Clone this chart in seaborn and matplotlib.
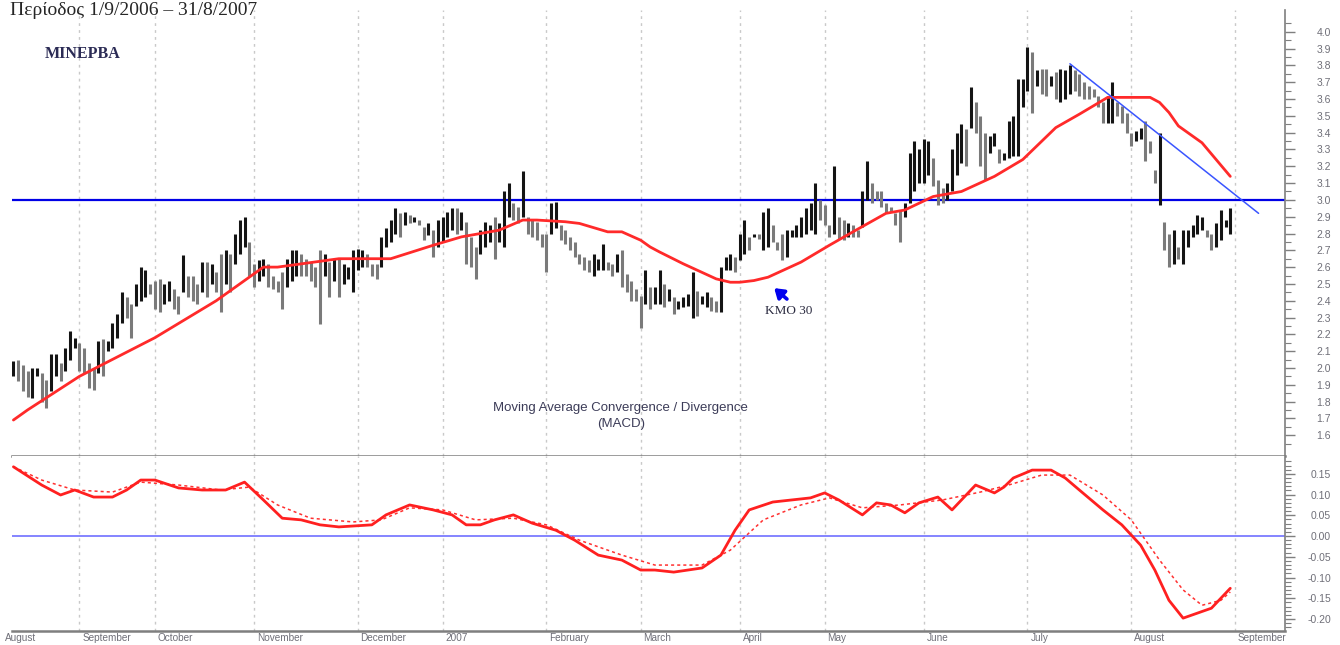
import numpy as np
import pandas as pd
import matplotlib
matplotlib.use("Agg")
import matplotlib.pyplot as plt
import seaborn as sns

# Daily high / low of the share price, trading day index 0 .. 258 (mid Aug 2006 - end Aug 2007)
highs = [
    2.04, 2.05, 2.02, 1.98, 2.00, 2.00, 1.97, 1.93, 2.08, 2.08,
    2.03, 2.12, 2.22, 2.18, 2.15, 2.12, 2.03, 2.00, 2.16, 2.17,
    2.16, 2.27, 2.32, 2.45, 2.42, 2.38, 2.50, 2.60, 2.58, 2.50,
    2.52, 2.53, 2.50, 2.52, 2.47, 2.43, 2.67, 2.55, 2.55, 2.50,
    2.63, 2.63, 2.62, 2.57, 2.68, 2.70, 2.68, 2.80, 2.88, 2.90,
    2.75, 2.62, 2.64, 2.65, 2.62, 2.55, 2.52, 2.57, 2.65, 2.70,
    2.70, 2.68, 2.65, 2.63, 2.60, 2.70, 2.68, 2.63, 2.65, 2.65,
    2.62, 2.60, 2.70, 2.71, 2.70, 2.68, 2.62, 2.62, 2.78, 2.83,
    2.88, 2.95, 2.92, 2.93, 2.91, 2.90, 2.88, 2.84, 2.86, 2.82,
    2.88, 2.90, 2.93, 2.95, 2.95, 2.93, 2.87, 2.78, 2.72, 2.82,
    2.87, 2.85, 2.90, 2.86, 3.05, 3.10, 2.98, 2.96, 3.17, 2.90,
    2.88, 2.87, 2.80, 2.80, 2.98, 2.99, 2.85, 2.82, 2.78, 2.75,
    2.68, 2.66, 2.64, 2.68, 2.65, 2.74, 2.63, 2.62, 2.68, 2.70,
    2.56, 2.52, 2.47, 2.43, 2.58, 2.48, 2.48, 2.58, 2.50, 2.47,
    2.42, 2.40, 2.42, 2.44, 2.57, 2.46, 2.43, 2.45, 2.42, 2.40,
    2.60, 2.66, 2.68, 2.66, 2.80, 2.88, 2.78, 2.80, 2.80, 2.93,
    2.95, 2.85, 2.75, 2.80, 2.82, 2.82, 2.85, 2.90, 2.95, 2.98,
    3.10, 3.00, 2.97, 2.85, 3.20, 2.90, 2.88, 2.86, 2.85, 2.82,
    3.05, 3.23, 3.10, 3.05, 3.05, 2.98, 2.96, 2.92, 2.94, 2.98,
    3.28, 3.35, 3.30, 3.36, 3.35, 3.25, 3.12, 3.07, 3.10, 3.30,
    3.40, 3.45, 3.42, 3.67, 3.58, 3.50, 3.40, 3.38, 3.40, 3.30,
    3.28, 3.47, 3.50, 3.72, 3.72, 3.91, 3.88, 3.77, 3.78, 3.78,
    3.74, 3.76, 3.78, 3.77, 3.80, 3.77, 3.75, 3.70, 3.68, 3.66,
    3.62, 3.58, 3.62, 3.70, 3.58, 3.56, 3.52, 3.40, 3.41, 3.43,
    3.47, 3.35, 3.18, 3.40, 2.87, 2.80, 2.82, 2.72, 2.82, 2.82,
    2.85, 2.91, 2.90, 2.82, 2.80, 2.86, 2.94, 2.88, 2.95,
]
lows = [
    1.95, 1.92, 1.86, 1.83, 1.82, 1.95, 1.80, 1.76, 1.86, 1.95,
    1.92, 1.98, 2.05, 2.12, 1.98, 1.97, 1.88, 1.87, 1.97, 1.95,
    2.10, 2.12, 2.18, 2.27, 2.30, 2.18, 2.37, 2.40, 2.42, 2.44,
    2.35, 2.33, 2.38, 2.40, 2.35, 2.32, 2.45, 2.42, 2.40, 2.38,
    2.45, 2.42, 2.50, 2.45, 2.33, 2.50, 2.45, 2.62, 2.68, 2.72,
    2.55, 2.48, 2.52, 2.55, 2.48, 2.47, 2.45, 2.35, 2.48, 2.52,
    2.55, 2.55, 2.55, 2.52, 2.48, 2.26, 2.55, 2.42, 2.52, 2.42,
    2.50, 2.53, 2.45, 2.58, 2.60, 2.60, 2.55, 2.53, 2.60, 2.72,
    2.75, 2.80, 2.78, 2.85, 2.86, 2.87, 2.85, 2.76, 2.79, 2.66,
    2.72, 2.75, 2.78, 2.82, 2.80, 2.82, 2.62, 2.60, 2.53, 2.68,
    2.72, 2.75, 2.65, 2.75, 2.72, 2.90, 2.88, 2.86, 2.90, 2.80,
    2.78, 2.76, 2.72, 2.57, 2.80, 2.83, 2.76, 2.74, 2.70, 2.66,
    2.62, 2.58, 2.57, 2.55, 2.58, 2.58, 2.58, 2.55, 2.57, 2.48,
    2.45, 2.40, 2.40, 2.24, 2.38, 2.35, 2.38, 2.38, 2.36, 2.40,
    2.32, 2.35, 2.36, 2.37, 2.30, 2.31, 2.38, 2.36, 2.34, 2.33,
    2.33, 2.58, 2.58, 2.57, 2.64, 2.68, 2.70, 2.78, 2.77, 2.70,
    2.72, 2.75, 2.70, 2.64, 2.66, 2.78, 2.78, 2.78, 2.80, 2.82,
    2.80, 2.88, 2.85, 2.78, 2.80, 2.77, 2.76, 2.78, 2.78, 2.78,
    2.84, 3.00, 2.98, 3.00, 2.96, 2.92, 2.93, 2.85, 2.75, 2.90,
    2.98, 3.05, 3.10, 3.10, 3.15, 3.08, 2.97, 2.98, 3.00, 3.05,
    3.15, 3.22, 3.20, 3.43, 3.40, 3.20, 3.12, 3.28, 3.32, 3.22,
    3.24, 3.25, 3.26, 3.26, 3.55, 3.65, 3.52, 3.68, 3.63, 3.62,
    3.68, 3.60, 3.58, 3.60, 3.63, 3.65, 3.62, 3.60, 3.60, 3.61,
    3.55, 3.46, 3.46, 3.46, 3.50, 3.46, 3.40, 3.32, 3.35, 3.36,
    3.23, 3.28, 3.10, 2.97, 2.70, 2.60, 2.62, 2.65, 2.62, 2.72,
    2.78, 2.80, 2.82, 2.78, 2.70, 2.72, 2.76, 2.84, 2.80,
]

# 30 day moving average (read at selected days)
ma_days = [0, 3, 14, 30, 43, 49, 53, 56, 69, 77, 80, 89, 95, 103, 108, 111, 117, 120,
           126, 129, 133, 135, 137, 142, 149, 152, 154, 157, 160, 167, 173, 178, 185, 189,
           195, 201, 208, 214, 221, 226, 232, 237, 241, 243, 245, 247, 252, 258]
ma_vals = [1.69, 1.75, 1.95, 2.18, 2.40, 2.52, 2.60, 2.60, 2.65, 2.65, 2.65, 2.73, 2.78,
           2.82, 2.88, 2.88, 2.87, 2.86, 2.81, 2.81, 2.76, 2.72, 2.69, 2.62, 2.53, 2.51,
           2.51, 2.52, 2.54, 2.63, 2.73, 2.81, 2.92, 2.94, 3.02, 3.05, 3.14, 3.24, 3.43,
           3.51, 3.61, 3.61, 3.61, 3.58, 3.52, 3.44, 3.34, 3.14]

# MACD line and its signal line
macd_days = [0, 6, 10, 13, 17, 21, 24, 27, 30, 35, 40, 45, 49, 53, 57, 61, 65, 69, 76, 79,
             84, 89, 93, 96, 99, 102, 106, 110, 115, 119, 124, 129, 133, 136, 140, 146, 150,
             153, 156, 161, 165, 169, 172, 175, 180, 183, 186, 189, 192, 196, 199, 201, 204,
             208, 210, 212, 216, 220, 223, 226, 231, 235, 239, 242, 245, 248, 251, 254, 258]
macd_vals = [0.167, 0.123, 0.099, 0.111, 0.094, 0.094, 0.111, 0.135, 0.135, 0.116, 0.111,
             0.111, 0.130, 0.087, 0.043, 0.039, 0.027, 0.022, 0.027, 0.051, 0.075, 0.063,
             0.051, 0.027, 0.027, 0.039, 0.051, 0.031, 0.014, -0.010, -0.046, -0.058,
             -0.082, -0.082, -0.087, -0.077, -0.046, 0.014, 0.063, 0.082, 0.087, 0.092,
             0.104, 0.087, 0.051, 0.080, 0.075, 0.056, 0.080, 0.094, 0.063, 0.087, 0.123,
             0.104, 0.118, 0.140, 0.159, 0.159, 0.140, 0.111, 0.063, 0.027, -0.022, -0.082,
             -0.155, -0.198, -0.186, -0.174, -0.126]
signal_days = [0, 6, 13, 21, 27, 35, 44, 50, 56, 63, 72, 78, 84, 91, 98, 106, 113, 120, 129,
               136, 146, 152, 159, 167, 173, 180, 188, 197, 205, 211, 218, 224, 231, 237,
               243, 248, 252, 256, 258]
signal_vals = [0.167, 0.135, 0.111, 0.106, 0.130, 0.123, 0.111, 0.118, 0.075, 0.043, 0.034,
               0.039, 0.068, 0.063, 0.039, 0.043, 0.027, -0.010, -0.046, -0.070, -0.070,
               -0.034, 0.039, 0.075, 0.092, 0.068, 0.075, 0.087, 0.106, 0.123, 0.147, 0.147,
               0.099, 0.039, -0.058, -0.130, -0.167, -0.155, -0.135]

# downtrend line drawn on the chart
trend_days = [224, 264]
trend_vals = [3.81, 2.92]

month_days = [14, 30, 51, 73, 91, 113, 133, 154, 172, 193, 215, 237, 259]
month_labels = ["September", "October", "November", "December", "2007", "February",
                "March", "April", "May", "June", "July", "August", "September"]

W, H = 1340, 645
sns.set_style("white")
plt.rcParams["font.family"] = ["Liberation Sans", "DejaVu Sans"]

fig = plt.figure(figsize=(W / 100, H / 100), dpi=100)
ax = fig.add_axes([12 / W, (H - 456) / H, (1285 - 12) / W, (456 - 10) / H])
ax2 = fig.add_axes([12 / W, (H - 631) / H, (1285 - 12) / W, (631 - 456) / H], sharex=ax)

days = np.arange(len(highs))
df = pd.DataFrame({"day": days, "high": highs, "low": lows})
mid = (df["high"] + df["low"]) / 2
bar_colors = np.where(mid.diff().fillna(0) < 0, "#7a7a7a", "#141414")

axis_grey = "#7f7f7f"
label_grey = "#6f6f78"

for a in (ax, ax2):
    for m in month_days:
        a.axvline(m, color="#c9c9c9", lw=1, ls=(0, (2, 3)), zorder=0)
    for s in ["top", "left"]:
        a.spines[s].set_visible(False)
    a.spines["right"].set_color(axis_grey)
    a.spines["right"].set_linewidth(1.2)
    a.spines["bottom"].set_color(axis_grey)
    a.spines["bottom"].set_linewidth(1.8)
    a.yaxis.tick_right()
    a.tick_params(axis="y", which="major", direction="out", length=7, width=1,
                  color=axis_grey, labelsize=7.5, labelcolor=label_grey, pad=26)
    a.tick_params(axis="y", which="minor", direction="out", length=4, width=0.8,
                  color=axis_grey)

# price panel
ax.vlines(df["day"], df["low"], df["high"], colors=bar_colors, lw=2.2, zorder=3)
sns.lineplot(x=ma_days, y=ma_vals, ax=ax, color="#ff2a2a", lw=2, sort=False, zorder=4)
ax.axhline(3.0, color="#0000e6", lw=1.6, zorder=2)
sns.lineplot(x=trend_days, y=trend_vals, ax=ax, color="#3a55ff", lw=1.1, zorder=4)
ax.set_ylim(1.476, 4.13)
price_ticks = np.round(np.arange(1.6, 4.01, 0.1), 1)
ax.set_yticks(price_ticks)
ax.set_yticklabels([f"{v:.1f}" for v in price_ticks], ha="right")
ax.set_yticks(np.arange(1.55, 4.1, 0.05), minor=True)
ax.tick_params(axis="x", which="both", bottom=False, labelbottom=False)
ax.set_xlabel("")
ax.set_ylabel("")

ax.text(14.6, 3.87, "ΜΙΝΕΡΒΑ", family=["Liberation Serif"], fontsize=11.5, fontweight="bold",
        color="#2b2b55", ha="center", va="center")
ax.annotate("", xy=(161.3, 2.475), xytext=(164.0, 2.41),
            arrowprops=dict(arrowstyle="-|>,head_width=0.3,head_length=0.45",
                            color="#0000ee", lw=2.6, shrinkA=0, shrinkB=0,
                            mutation_scale=12))
ax.text(164.3, 2.34, "ΚΜΟ 30", family=["Liberation Serif"], fontsize=9.5,
        color="#2b2b40", ha="center", va="center")
ax.text(128.8, 1.76, "Moving Average Convergence / Divergence", fontsize=9.5,
        color="#3c3c58", ha="center", va="center")
ax.text(128.8, 1.665, "(MACD)", fontsize=9.5, color="#3c3c58", ha="center", va="center")

# MACD panel
ax2.axhline(0, color="#7070ff", lw=1.2, zorder=2)
sns.lineplot(x=signal_days, y=signal_vals, ax=ax2, color="#ff3030", lw=1.1,
             ls=(0, (2, 2)), zorder=3)
sns.lineplot(x=macd_days, y=macd_vals, ax=ax2, color="#ff2020", lw=2, zorder=4)
ax2.set_ylim(-0.229, 0.193)
macd_ticks = np.round(np.arange(-0.20, 0.151, 0.05), 2)
ax2.set_yticks(macd_ticks)
ax2.set_yticklabels([f"{abs(v):.2f}" if abs(v) < 1e-9 else f"{v:.2f}" for v in macd_ticks],
                    ha="right")
ax2.set_yticks(np.round(np.arange(-0.22, 0.19, 0.01), 2), minor=True)
ax2.set_xlim(-0.3, 269.6)
ax2.set_xticks(month_days)
ax2.set_xticks(np.arange(4, 270, 5), minor=True)
ax2.tick_params(axis="x", which="major", direction="out", length=6, color=axis_grey,
                labelbottom=False)
ax2.tick_params(axis="x", which="minor", direction="out", length=4, color=axis_grey)
ax2.set_xlabel("")
ax2.set_ylabel("")

# month names along the bottom
for d, lab in zip([-2.4] + month_days, ["August"] + month_labels):
    ax2.text(d + 0.6, -0.2455, lab, fontsize=7.2, color=label_grey, ha="left",
             va="center", clip_on=False)

fig.text(10 / W, 1 - 15 / H, "Περίοδος 1/9/2006 – 31/8/2007", family=["Liberation Serif"],
         fontsize=14, ha="left", va="baseline")

fig.savefig("out.png", dpi=100, facecolor="white")
